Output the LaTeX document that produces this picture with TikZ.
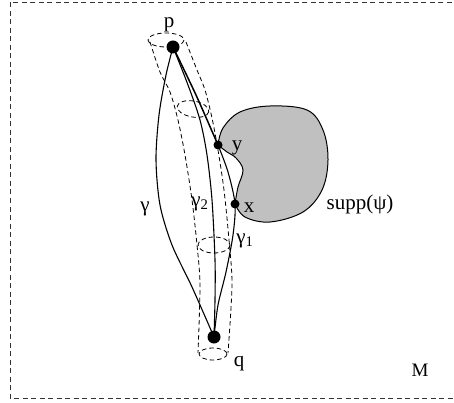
\documentclass[tikz,border=0pt]{standalone}
\usepackage{fontspec}
\setmainfont{Liberation Serif}
\begin{document}
\begin{tikzpicture}[x=1pt,y=-1pt,
  curve/.style={line width=1.1pt},
  tube/.style={line width=0.8pt, dash pattern=on 4.5pt off 3pt},
  frame/.style={line width=0.8pt, dash pattern=on 5pt off 3.5pt, black!80},
  bigdot/.style={circle, fill=black, inner sep=0pt, minimum size=13pt},
  smalldot/.style={circle, fill=black, inner sep=0pt, minimum size=9pt},
  lab/.style={anchor=base, inner sep=0pt, font=\fontsize{21}{23}\selectfont}]
\useasboundingbox (0,0) rectangle (454,403);
% frame
\coordinate (f1) at (460,2);
\coordinate (f2) at (10,2);
\coordinate (f3) at (10,398);
\coordinate (f4) at (460,398);
\draw[frame] (f1) -- (f2) -- (f3) -- (f4);
% points
\coordinate (pc) at (173,47);
\coordinate (qc) at (214,337);
\coordinate (yc) at (218,145);
\coordinate (xc) at (235,204);
% support blob
\filldraw[fill={rgb,255:red,192;green,192;blue,192}, line width=1pt]
  (yc) -- plot[smooth, tension=0.6] coordinates {(yc) (223,128) (240,112) (270,106) (307,110) (323,130) (328,160) (322,190) (303,212) (270,222) (245,217) (xc)}
  -- plot[smooth, tension=0.6] coordinates {(xc) (238,187) (243,170) (236,158) (227,152) (yc)} -- cycle;
% tube
\draw[tube] plot[smooth] coordinates {(150,42) (160,72) (170,92) (178,120) (185,155) (192,200) (197,245) (200,285) (198,353)};
\draw[tube] plot[smooth] coordinates {(186,42) (197,70) (205,90) (212,118) (218,150) (224,190) (229,240) (232,285) (228,353)};
\draw[tube] (166,40) ellipse [x radius=18, y radius=7];
\draw[tube, rotate around={-10:(193,109)}] (193,109) ellipse [x radius=16, y radius=8];
\draw[tube] (214,245) ellipse [x radius=16, y radius=8];
\draw[tube] (213,354) ellipse [x radius=14, y radius=6];
% curves
\draw[curve] plot[smooth] coordinates {(pc) (166,75) (159,115) (156,160) (160,205) (172,245) (192,287) (qc)};
\draw[curve] plot[smooth] coordinates {(pc) (188,85) (200,120) (207,155) (212,200) (215,260) (215,300) (qc)};
\draw[line width=1.5pt] plot[smooth] coordinates {(pc) (196,95) (yc)};
\draw[curve] plot[smooth] coordinates {(yc) (228,172) (xc) (233,235) (226,272) (218,305) (qc)};
% dots
\node[bigdot] (p) at (pc) {};
\node[bigdot] (q) at (qc) {};
\node[smalldot] (y) at (yc) {};
\node[smalldot] (x) at (xc) {};
% labels
\node[lab] (lp) at (169,28) {p};
\node[lab] (lq) at (239,366) {q};
\node[lab] (ly) at (237,151) {y};
\node[lab] (lx) at (249,212) {x};
\node[lab] (ls) at (360,209) {supp(ψ)};
\node[lab] (lg) at (145,211) {γ};
\node[lab] (lg2) at (200,206) {γ\textsubscript{2}};
\node[lab] (lg1) at (245,243) {γ\textsubscript{1}};
\node[lab, font=\fontsize{19}{21}\selectfont] (lM) at (420,376) {M};
\end{tikzpicture}
\end{document}
